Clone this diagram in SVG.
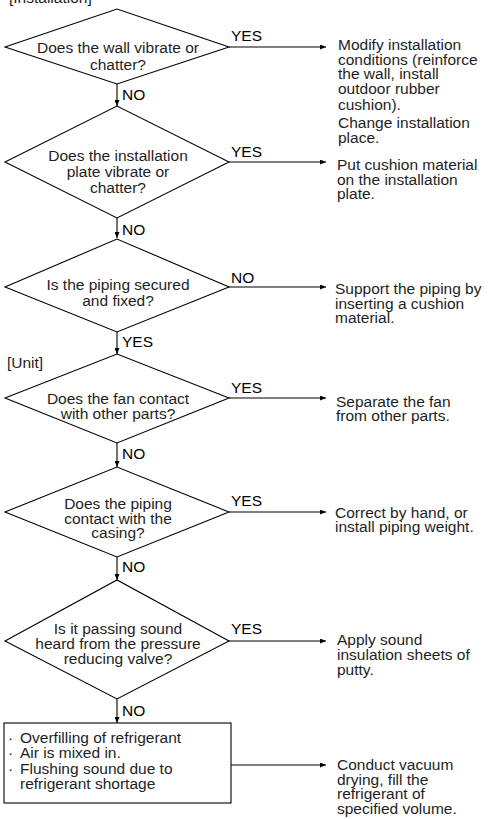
<svg xmlns="http://www.w3.org/2000/svg" width="488" height="819" viewBox="0 0 488 819">
  <style>
    text { font-family: "Liberation Sans", Arial, Helvetica, sans-serif; font-size: 15.5px; fill: #1e1e1e; }
    .mid { text-anchor: middle; }
    .lbl { fill: #000; }
    .shape { fill: #fff; stroke: #000; stroke-width: 1.1; }
    .edge { fill: none; stroke: #000; stroke-width: 1.1; marker-end: url(#tip); }
  </style>
  <defs>
    <marker id="tip" markerUnits="userSpaceOnUse" markerWidth="7" markerHeight="5" refX="6" refY="2.5" orient="auto">
      <path d="M0,0 L6,2.5 L0,5 z" fill="#000"/>
    </marker>
  </defs>

  <rect width="488" height="819" fill="#fff"/>

  <!-- section headings -->
  <text x="9" y="3">[Installation]</text>
  <text x="7" y="368">[Unit]</text>

  <!-- connectors -->
  <g id="connectors">
    <line class="edge" x1="229" y1="47" x2="326" y2="47"/>
    <line class="edge" x1="117" y1="84" x2="117" y2="106"/>
    <line class="edge" x1="229" y1="162" x2="326" y2="162"/>
    <line class="edge" x1="117" y1="218" x2="117" y2="238"/>
    <line class="edge" x1="229" y1="287" x2="326" y2="287"/>
    <line class="edge" x1="117" y1="332" x2="117" y2="354"/>
    <line class="edge" x1="229" y1="398" x2="326" y2="398"/>
    <line class="edge" x1="117" y1="443" x2="117" y2="467"/>
    <line class="edge" x1="229" y1="512" x2="326" y2="512"/>
    <line class="edge" x1="117" y1="557" x2="117" y2="580"/>
    <line class="edge" x1="229" y1="641" x2="326" y2="641"/>
    <line class="edge" x1="117" y1="699" x2="117" y2="723"/>
    <line class="edge" x1="231" y1="765" x2="326" y2="765"/>
    <text class="lbl" x="231" y="41">YES</text>
    <text class="lbl" x="122" y="100">NO</text>
    <text class="lbl" x="231" y="157">YES</text>
    <text class="lbl" x="122" y="235">NO</text>
    <text class="lbl" x="231" y="283">NO</text>
    <text class="lbl" x="122" y="347">YES</text>
    <text class="lbl" x="231" y="393">YES</text>
    <text class="lbl" x="122" y="459">NO</text>
    <text class="lbl" x="231" y="506">YES</text>
    <text class="lbl" x="122" y="572">NO</text>
    <text class="lbl" x="231" y="634">YES</text>
    <text class="lbl" x="122" y="716">NO</text>
  </g>

  <!-- decisions -->
  <g id="q-wall">
    <polygon class="shape" points="5,47 117,9 229,47 117,84"/>
    <text class="mid" x="118" y="53">Does the wall vibrate or</text>
    <text class="mid" x="118" y="70">chatter?</text>
  </g>
  <g id="q-plate">
    <polygon class="shape" points="5,162 117,106 229,162 117,218"/>
    <text class="mid" x="118" y="161">Does the installation</text>
    <text class="mid" x="118" y="177">plate vibrate or</text>
    <text class="mid" x="118" y="193">chatter?</text>
  </g>
  <g id="q-piping-fixed">
    <polygon class="shape" points="5,287 117,239 229,287 117,332"/>
    <text class="mid" x="118" y="290">Is the piping secured</text>
    <text class="mid" x="118" y="306">and fixed?</text>
  </g>
  <g id="q-fan">
    <polygon class="shape" points="5,398 117,354 229,398 117,443"/>
    <text class="mid" x="118" y="404">Does the fan contact</text>
    <text class="mid" x="118" y="419">with other parts?</text>
  </g>
  <g id="q-casing">
    <polygon class="shape" points="5,512 117,467 229,512 117,557"/>
    <text class="mid" x="118" y="509">Does the piping</text>
    <text class="mid" x="118" y="523.5">contact with the</text>
    <text class="mid" x="118" y="538">casing?</text>
  </g>
  <g id="q-valve">
    <polygon class="shape" points="5,641 117,580 229,641 117,699"/>
    <text class="mid" x="118" y="633.5">Is it passing sound</text>
    <text class="mid" x="118" y="648.5">heard from the pressure</text>
    <text class="mid" x="118" y="663.5">reducing valve?</text>
  </g>
  <g id="causes">
    <rect class="shape" x="4" y="723" width="227" height="80"/>
    <text x="8" y="743">·<tspan x="20">Overfilling of refrigerant</tspan></text>
    <text x="8" y="758">·<tspan x="20">Air is mixed in.</tspan></text>
    <text x="8" y="774">·<tspan x="20">Flushing sound due to</tspan></text>
    <text x="20" y="789">refrigerant shortage</text>
  </g>

  <!-- remedies -->
  <g id="r-wall">
    <text x="338" y="49.5">Modify installation</text>
    <text x="338" y="64.5">conditions (reinforce</text>
    <text x="338" y="79">the wall, install</text>
    <text x="338" y="94">outdoor rubber</text>
    <text x="338" y="109.5">cushion).</text>
    <text x="338" y="128">Change installation</text>
    <text x="338" y="143">place.</text>
  </g>
  <g id="r-plate">
    <text x="337" y="170">Put cushion material</text>
    <text x="337" y="184.5">on the installation</text>
    <text x="337" y="199">plate.</text>
  </g>
  <g id="r-piping-fixed">
    <text x="335" y="294">Support the piping by</text>
    <text x="335" y="308.5">inserting a cushion</text>
    <text x="335" y="323">material.</text>
  </g>
  <g id="r-fan">
    <text x="336" y="406.5">Separate the fan</text>
    <text x="336" y="421">from other parts.</text>
  </g>
  <g id="r-casing">
    <text x="335" y="517.5">Correct by hand, or</text>
    <text x="335" y="532">install piping weight.</text>
  </g>
  <g id="r-valve">
    <text x="337" y="645">Apply sound</text>
    <text x="337" y="660">insulation sheets of</text>
    <text x="337" y="674.5">putty.</text>
  </g>
  <g id="r-refrigerant">
    <text x="337" y="770">Conduct vacuum</text>
    <text x="337" y="784.5">drying, fill the</text>
    <text x="337" y="799">refrigerant of</text>
    <text x="337" y="813.5">specified volume.</text>
  </g>
</svg>
